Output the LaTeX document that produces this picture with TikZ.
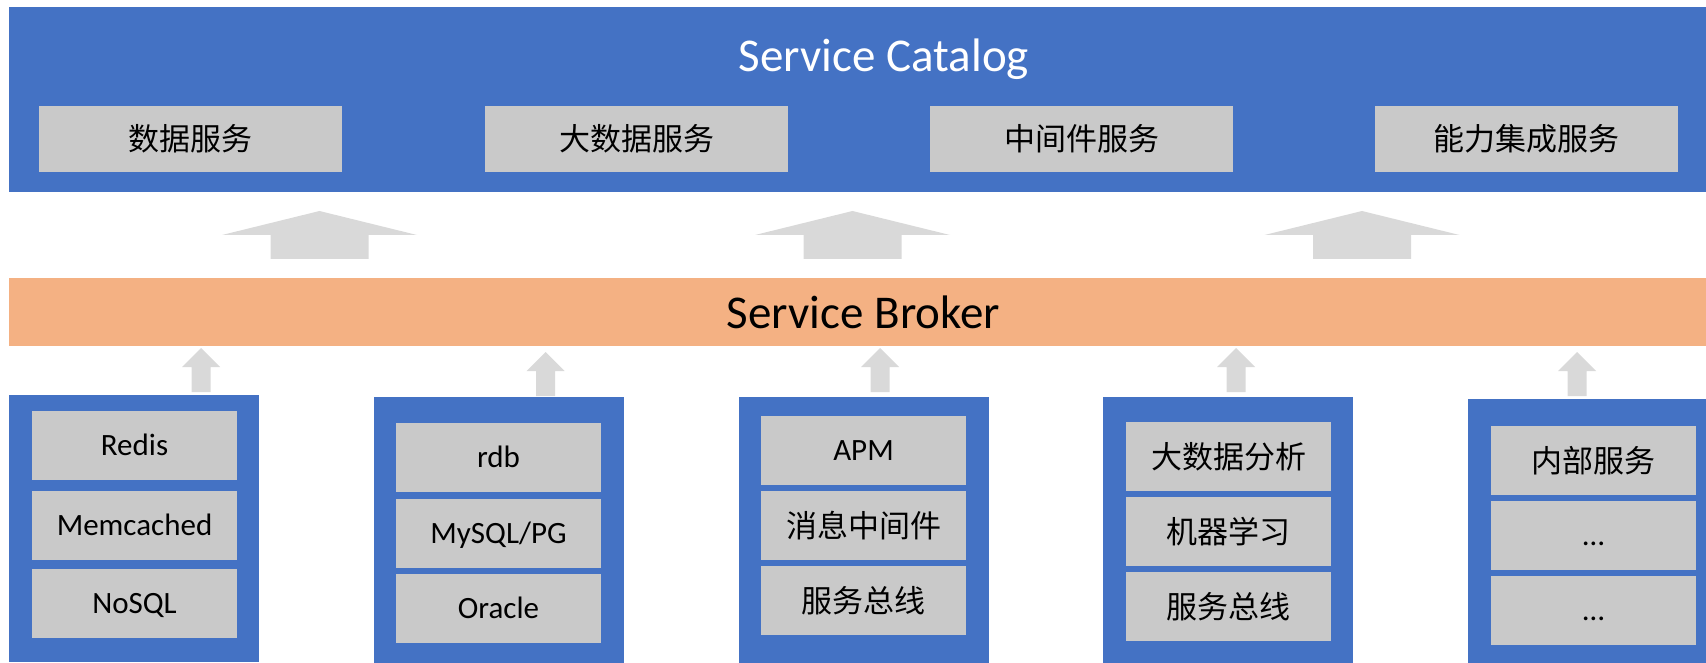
\documentclass[tikz,border=0pt]{standalone}
\usepackage{fontspec}
\setmainfont{Carlito}
\newfontfamily\cjk{Noto Sans CJK SC}
\definecolor{layerblue}{HTML}{4472C4}
\definecolor{brokerorange}{HTML}{F4B183}
\definecolor{cellgray}{HTML}{C9C9C9}
\definecolor{arrowgray}{HTML}{D9D9D9}
\tikzset{
  layer/.style={fill=layerblue, inner sep=0pt, outer sep=0pt},
  cell/.style={fill=cellgray, inner sep=0pt, outer sep=0pt,
    minimum width=205pt, minimum height=69pt,
    font=\fontsize{31}{31}\selectfont, text height=20pt, text depth=0pt},
  cjkcell/.style={cell, font=\cjk\fontsize{31}{31}\selectfont, text height=24pt},
  topcell/.style={cjkcell, minimum width=303pt, minimum height=66pt},
  title/.style={inner sep=0pt, anchor=base, font=\fontsize{47}{47}\selectfont},
  bigup/.pic={\fill[arrowgray] (-49,48) -- (-49,24) -- (-97.5,24) -- (0,0)
      -- (97.5,24) -- (49,24) -- (49,48) -- cycle;},
  smallup/.pic={\fill[arrowgray] (-9.5,44) -- (-9.5,19) -- (-19,19) -- (0,0)
      -- (19,19) -- (9.5,19) -- (9.5,44) -- cycle;},
}
\begin{document}
\begin{tikzpicture}[x=1pt, y=-1pt]
\useasboundingbox (0,0) rectangle (1706,663);

% catalog layer
\node (catalog) [layer, minimum width=1697pt, minimum height=185pt] at (857.5,99.5) {};
\node (catalogtitle) [title, text=white] at (884,72) {Service Catalog};
\node (data)   [topcell] at (190.5,139)  {数据服务};
\node (bigdata)[topcell] at (636.5,139)  {大数据服务};
\node (mw)     [topcell] at (1081.5,139) {中间件服务};
\node (integ)  [topcell] at (1526.5,139) {能力集成服务};

% broker layer
\node (broker) [layer, fill=brokerorange, minimum width=1697pt, minimum height=68pt] at (857.5,312) {};
\node (brokertitle) [title] at (863.5,328) {Service Broker};

% broker feeds the catalog
\pic at (319.5,211) {bigup};
\pic at (852.5,211) {bigup};
\pic at (1362,211)  {bigup};

% service groups under the broker
\node (g1) [layer, minimum width=250pt, minimum height=267pt] at (134,528.5) {};
\node (g2) [layer, minimum width=250pt, minimum height=266pt] at (499,530) {};
\node (g3) [layer, minimum width=250pt, minimum height=266pt] at (864,530) {};
\node (g4) [layer, minimum width=250pt, minimum height=266pt] at (1228,530) {};
\node (g5) [layer, minimum width=238pt, minimum height=264pt] at (1587,531) {};

\node (redis) [cell] at (134.5,445.5) {Redis};
\node (memc)  [cell] at (134.5,525.5) {Memcached};
\node (nosql) [cell] at (134.5,603.5) {NoSQL};

\node (rdb)    [cell] at (498.5,457.5) {rdb};
\node (mysql)  [cell] at (498.5,533.5) {MySQL/PG};
\node (oracle) [cell] at (498.5,608.5) {Oracle};

\node (apm)  [cell]    at (863.5,450.5) {APM};
\node (mq)   [cjkcell] at (863.5,525.5) {消息中间件};
\node (esb1) [cjkcell] at (863.5,600.5) {服务总线};

\node (bda)  [cjkcell] at (1228.5,456.5) {大数据分析};
\node (ml)   [cjkcell] at (1228.5,531.5) {机器学习};
\node (esb2) [cjkcell] at (1228.5,606.5) {服务总线};

\node (inner) [cjkcell] at (1593.5,460.5) {内部服务};
\node (more1) [cell]    at (1593.5,535.5) {…};
\node (more2) [cell]    at (1593.5,610.5) {…};

% groups feed the broker
\pic at (201,348)    {smallup};
\pic at (545.5,352)  {smallup};
\pic at (880,348)    {smallup};
\pic at (1236,348)   {smallup};
\pic at (1577,352)   {smallup};
\end{tikzpicture}
\end{document}
